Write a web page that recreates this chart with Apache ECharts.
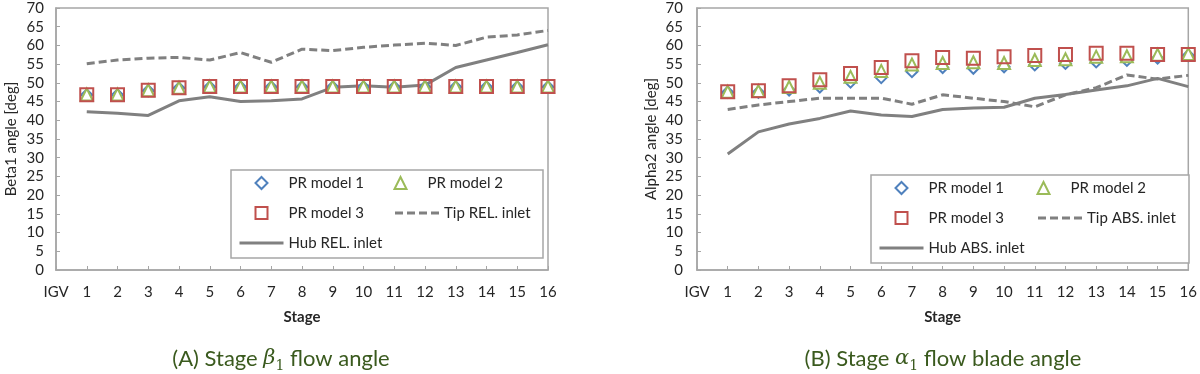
<!DOCTYPE html>
<html>
<head>
<meta charset="utf-8">
<script src="https://cdn.jsdelivr.net/npm/echarts@6/dist/echarts.min.js"></script>
<style>
html,body{margin:0;padding:0;background:#fff;}
#chart{width:1200px;height:374px;}
</style>
</head>
<body>
<div id="chart"></div>
<script>
// ---- data ----
const stages = [1,2,3,4,5,6,7,8,9,10,11,12,13,14,15,16];
const xTickLabels = ['IGV','1','2','3','4','5','6','7','8','9','10','11','12','13','14','15','16'];

// (A) Stage beta1 flow angle
const betaPR1 = [46.8,46.8,47.9,48.6,48.9,48.9,48.9,48.9,48.9,48.9,48.9,48.9,48.9,48.9,48.9,48.9];
const betaPR2 = [46.9,46.9,48.0,48.7,49.0,49.0,49.0,49.0,49.0,49.0,49.0,49.0,49.0,49.0,49.0,49.0];
const betaPR3 = [46.8,46.8,48.0,48.7,49.0,49.0,49.0,49.0,49.0,49.0,49.0,49.0,49.0,49.0,49.0,49.0];
const betaTip = [55.1,56.1,56.6,56.8,56.1,58.1,55.5,59.0,58.6,59.5,60.1,60.6,60.0,62.2,62.8,64.0];
const betaHub = [42.3,41.9,41.3,45.2,46.3,45.0,45.2,45.7,48.8,49.2,48.8,49.4,54.1,56.1,58.1,60.2];

// (B) Stage alpha1 flow blade angle
const alphaPR1 = [47.5,47.5,48.1,48.9,50.2,51.4,53.0,54.1,53.9,54.3,54.8,55.2,55.6,56.0,56.6,57.3];
const alphaPR2 = [47.6,47.8,48.9,50.0,51.6,53.2,54.9,55.3,55.5,55.3,56.1,56.3,57.0,57.1,57.5,57.7];
const alphaPR3 = [47.6,47.9,49.2,50.8,52.5,54.1,55.9,56.8,56.6,57.0,57.3,57.6,57.9,57.9,57.6,57.6];
const alphaTip = [42.9,44.1,45.0,45.9,45.9,45.9,44.3,46.8,45.9,45.0,43.6,46.8,48.7,52.1,51.0,52.0];
const alphaHub = [31.0,36.9,39.0,40.5,42.5,41.4,41.0,42.9,43.3,43.5,45.9,46.9,48.1,49.2,51.2,49.0];

// ---- style ----
const FONT = 'Lato, "Noto Sans", sans-serif';
const TXT = '#262626';
const AX = '#a6a6a6';
const BLUE = '#4f81bd', GREEN = '#9bbb59', RED = '#c0504d', GRAY = '#808080';
const CLEAR = 'rgba(0,0,0,0)';
const ICONS = {
  diamond: 'path://M5,0L10,5L5,10L0,5Z',
  triangle: 'path://M5,0L10,10L0,10Z',
  rect: 'path://M0,0H10V10H0Z'
};

const pairs = arr => arr.map((v, i) => [stages[i], v]);

function xAxis(gi) {
  return {
    type: 'value', gridIndex: gi, min: 0, max: 16, interval: 1,
    name: 'Stage', nameLocation: 'middle', nameGap: 40,
    nameTextStyle: {fontFamily: FONT, fontSize: 15, fontWeight: 'bold', color: TXT},
    axisLine: {show: true, lineStyle: {color: AX, width: 1.5}},
    axisTick: {show: true, inside: true, length: 4, lineStyle: {color: AX}},
    axisLabel: {fontFamily: FONT, fontSize: 15, color: TXT, margin: 15,
      formatter: v => xTickLabels[v]},
    splitLine: {show: false}
  };
}
function yAxis(gi, name, gap, margin) {
  return {
    type: 'value', gridIndex: gi, min: 0, max: 70, interval: 5,
    name: name, nameLocation: 'middle', nameGap: gap,
    nameTextStyle: {fontFamily: FONT, fontSize: 15, color: TXT},
    axisLine: {show: true, lineStyle: {color: AX, width: 1.5}},
    axisTick: {show: true, inside: true, length: 4, lineStyle: {color: AX}},
    axisLabel: {fontFamily: FONT, fontSize: 15, color: TXT, margin: margin},
    splitLine: {show: false}
  };
}
function lineSeries(gi, name, data, dashed) {
  return {
    type: 'line', name: name, xAxisIndex: gi, yAxisIndex: gi,
    data: pairs(data), symbol: 'none', showSymbol: false, z: 2,
    lineStyle: {color: GRAY, width: 3, type: dashed ? [8, 4] : 'solid'},
    itemStyle: {color: CLEAR, borderColor: CLEAR, borderWidth: 0}
  };
}
function scatterSeries(gi, name, data, symbol, size, color, fill) {
  return {
    type: 'scatter', name: name, xAxisIndex: gi, yAxisIndex: gi,
    data: pairs(data), symbol: symbol, symbolSize: size, z: 3,
    itemStyle: {color: fill, borderColor: color, borderWidth: 2, opacity: 1}
  };
}
function legend(left, top, tipName, hubName, textW, gap) {
  return {
    left: left, top: top, orient: 'horizontal', width: 2 * (44 + 5 + textW) + gap + 8,
    itemWidth: 44, itemHeight: 12, itemGap: gap, symbolKeepAspect: true,
    padding: [5, 8, 7, 7],
    borderColor: AX, borderWidth: 1.5, backgroundColor: '#fff',
    lineStyle: {width: 3},
    textStyle: {fontFamily: FONT, fontSize: 15, color: TXT, width: textW, lineHeight: 16, overflow: 'none'},
    selectedMode: false,
    data: [
      {name: 'PR model 1', icon: ICONS.diamond},
      {name: 'PR model 2', icon: ICONS.triangle},
      {name: 'PR model 3', icon: ICONS.rect},
      {name: tipName},
      {name: hubName}
    ]
  };
}

function caption(x, y, before, greek, after) {
  return {type: 'text', x: x, y: y, style: {
    text: before + '{i|' + greek + '}{s|1}' + after, align: 'center', verticalAlign: 'middle',
    fontFamily: FONT, fontSize: 22, fill: '#3a5a1e', lineHeight: 28,
    rich: {
      i: {fontFamily: '"DejaVu Serif", serif', fontStyle: 'italic', fontSize: 21, fill: '#3a5a1e', lineHeight: 28},
      s: {fontFamily: '"DejaVu Serif", serif', fontSize: 14, fill: '#3a5a1e', verticalAlign: 'bottom', lineHeight: 14}
    }
  }};
}

const chart = echarts.init(document.getElementById('chart'), null, {renderer: 'canvas'});
chart.setOption({
  backgroundColor: '#fff',
  animation: false,
  grid: [
    {left: 56, top: 8, width: 492, height: 262, show: true, borderColor: AX, borderWidth: 1.5, backgroundColor: 'transparent'},
    {left: 697, top: 8, width: 492, height: 262, show: true, borderColor: AX, borderWidth: 1.5, backgroundColor: 'transparent'}
  ],
  xAxis: [xAxis(0), xAxis(1)],
  yAxis: [yAxis(0, 'Beta1 angle [deg]', 37, 12), yAxis(1, 'Alpha2 angle [deg]', 38, 14)],
  legend: [
    legend(231, 170, 'Tip REL. inlet', 'Hub REL. inlet', 91, 14),
    legend(871, 175, 'Tip ABS. inlet', 'Hub ABS. inlet', 94, 14)
  ],
  series: [
    lineSeries(0, 'Tip REL. inlet', betaTip, true),
    lineSeries(0, 'Hub REL. inlet', betaHub, false),
    scatterSeries(0, 'PR model 1', betaPR1, 'diamond', 11, BLUE, '#fff'),
    scatterSeries(0, 'PR model 2', betaPR2, 'triangle', 12, GREEN, '#fff'),
    scatterSeries(0, 'PR model 3', betaPR3, 'rect', 13, RED, CLEAR),
    lineSeries(1, 'Tip ABS. inlet', alphaTip, true),
    lineSeries(1, 'Hub ABS. inlet', alphaHub, false),
    scatterSeries(1, 'PR model 1', alphaPR1, 'diamond', 11, BLUE, '#fff'),
    scatterSeries(1, 'PR model 2', alphaPR2, 'triangle', 12, GREEN, '#fff'),
    scatterSeries(1, 'PR model 3', alphaPR3, 'rect', 13, RED, CLEAR)
  ],
  graphic: [
    caption(281, 359, '(A) Stage ', 'β', ' flow angle'),
    caption(943, 359, '(B) Stage ', 'α', ' flow blade angle')
  ]
});
</script>
</body>
</html>
